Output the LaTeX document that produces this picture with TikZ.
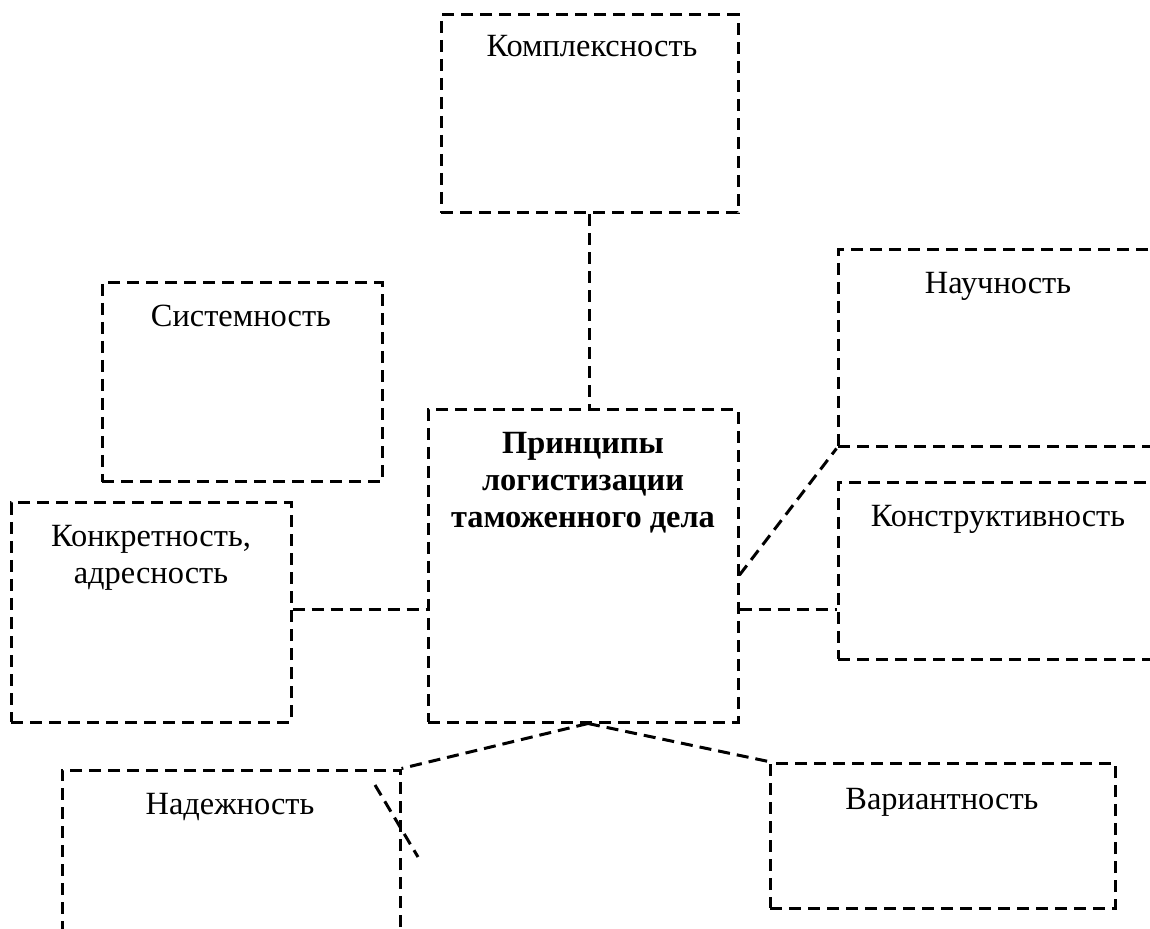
\documentclass[tikz,border=0pt]{standalone}
\usepackage{fontspec}
\setmainfont{Liberation Serif}
\usetikzlibrary{positioning}
\tikzset{
    principle/.style={
        draw, black, line width=1.5pt,
        dash pattern=on 6pt off 3.5pt,
        inner sep=0pt
    },
    link/.style={
        draw, black, line width=1.5pt,
        dash pattern=on 6pt off 3.5pt
    },
    caption/.style={
        font=\fontsize{16.2pt}{18.5pt}\selectfont,
        align=center, anchor=base, inner sep=0pt
    }
}

\begin{document}
\begin{tikzpicture}[x=0.5pt, y=-0.5pt]
                \useasboundingbox (0,0) rectangle (1150,929);
                \clip (0,0) rectangle (1150,929);

                \node [principle, minimum width=148.5pt, minimum height=99pt] (kompl) at (589.5, 114) {};
                \node [principle, minimum width=140pt, minimum height=99.5pt] (sist) at (242, 382.5) {};
                \node [principle, minimum width=140pt, minimum height=109.5pt] (konkr) at (151, 612.5) {};
                \node [principle, minimum width=155pt, minimum height=156pt] (princ) at (583, 566) {};
                \node [principle, minimum width=166pt, minimum height=98.5pt] (nauch) at (1004, 348.5) {};
                \node [principle, minimum width=166pt, minimum height=88pt] (konstr) at (1004, 571) {};
                \node [principle, minimum width=169pt, minimum height=90pt] (nadezh) at (231, 860) {};
                \node [principle, minimum width=172.5pt, minimum height=72.5pt] (variant) at (942.5, 835.5) {};

                % multi-line captions sit on their last baseline
                \node [caption] (kompl-t) at (592, 57) {Комплексность};
                \node [caption] (sist-t) at (241, 327) {Системность};
                \node [caption] (konkr-t) at (151, 584) {Конкретность,\\адресность};
                \node [caption, font=\fontsize{16.2pt}{18.5pt}\selectfont\bfseries] (princ-t) at (583, 528) {Принципы\\логистизации\\таможенного дела};
                \node [caption] (nauch-t) at (998, 294) {Научность};
                \node [caption] (konstr-t) at (998, 527) {Конструктивность};
                \node [caption] (nadezh-t) at (230, 814) {Надежность};
                \node [caption] (variant-t) at (942, 809) {Вариантность};

                \coordinate (midline) at (0, 610);
                \coordinate (stray1) at (375, 785);
                \coordinate (stray2) at (418, 857);

                \draw [link] (kompl.south) -- (kompl.south |- princ.north);
                \draw [link] (konkr.east |- midline) -- (princ.west |- midline);
                \draw [link] (princ.east |- midline) -- (konstr.west |- midline);
                \draw [link] ([yshift=-4.5pt]princ.east) -- (nauch.south west);
                \draw [link] ([xshift=2.5pt]princ.south) -- (nadezh.north east);
                \draw [link] ([xshift=2.5pt]princ.south) -- (variant.north west);
                \draw [link] (stray1) -- (stray2);
            \end{tikzpicture}
\end{document}
